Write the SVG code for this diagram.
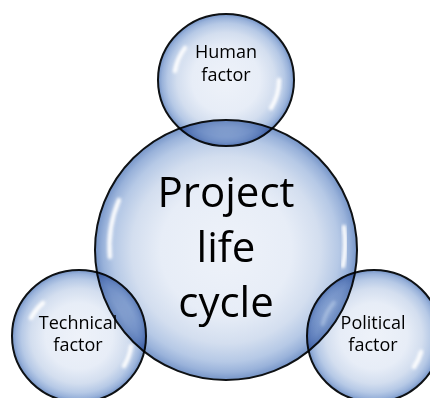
<svg xmlns="http://www.w3.org/2000/svg" width="430" height="398" viewBox="0 0 430 398">
  <style>
    .node { mix-blend-mode: multiply; }
    .bubble { fill: url(#bubbleFill); stroke: #0e1114; stroke-width: 2; }
    .shine { fill: none; stroke: #ffffff; stroke-linecap: round; stroke-width: 4.5; opacity: 0.95; filter: url(#soft); }
    .label { font-family: "Open Sans", "Liberation Sans", sans-serif; fill: #000; text-anchor: middle; }
    .big { font-size: 42px; }
    .small { font-size: 18px; }
  </style>
  <defs>
    <radialGradient id="bubbleFill" cx="50%" cy="50%" r="50%">
      <stop offset="0%" stop-color="#eef2f9"/>
      <stop offset="50%" stop-color="#e7edf7"/>
      <stop offset="72%" stop-color="#d3deef"/>
      <stop offset="86%" stop-color="#b6c9e6"/>
      <stop offset="94%" stop-color="#99b2da"/>
      <stop offset="100%" stop-color="#7695c8"/>
    </radialGradient>
    <filter id="soft" x="-50%" y="-50%" width="200%" height="200%">
      <feGaussianBlur stdDeviation="1.4"/>
    </filter>
  </defs>

  <!-- central bubble -->
  <g id="node-project-life-cycle" class="node">
    <ellipse class="bubble" cx="226" cy="250" rx="131" ry="130"/>
    <path class="shine" d="M 110 257 A 118 118 0 0 1 119 200"/>
    <path class="shine" d="M 344 227 A 119 119 0 0 1 343 266"/>
    <text class="label big" x="226" y="207">Project</text>
    <text class="label big" x="226" y="262">life</text>
    <text class="label big" x="226" y="317">cycle</text>
  </g>

  <!-- top bubble -->
  <g id="node-human-factor" class="node">
    <ellipse class="bubble" cx="226" cy="80" rx="68" ry="66"/>
    <path class="shine" d="M 175 71 A 52 52 0 0 1 185 48"/>
    <path class="shine" d="M 279 80 A 53 53 0 0 1 271 108"/>
    <text class="label small" x="226" y="58">Human</text>
    <text class="label small" x="226" y="81">factor</text>
  </g>

  <!-- lower-left bubble -->
  <g id="node-technical-factor" class="node">
    <ellipse class="bubble" cx="79" cy="336" rx="67" ry="66"/>
    <path class="shine" d="M 31 318 A 52 52 0 0 1 43 303"/>
    <path class="shine" d="M 131 346 A 53 53 0 0 1 124 366"/>
    <text class="label small" x="78" y="329">Technical</text>
    <text class="label small" x="78" y="351">factor</text>
  </g>

  <!-- lower-right bubble -->
  <g id="node-political-factor" class="node">
    <ellipse class="bubble" cx="374" cy="336" rx="67" ry="66"/>
    <path class="shine" d="M 323 324 A 52 52 0 0 1 334 303"/>
    <path class="shine" d="M 421 352 A 50 50 0 0 1 414 367"/>
    <text class="label small" x="373" y="329">Political</text>
    <text class="label small" x="373" y="351">factor</text>
  </g>

  <!-- the bubbles touch directly, no separate connectors -->
  <g id="connectors"/>
</svg>
